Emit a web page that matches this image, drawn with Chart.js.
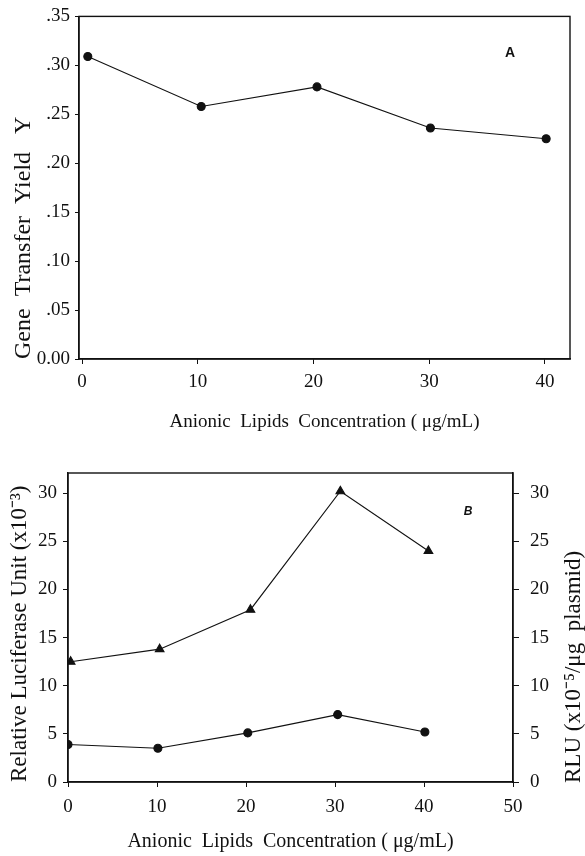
<!DOCTYPE html>
<html>
<head>
<meta charset="utf-8">
<script src="https://cdn.jsdelivr.net/npm/chart.js@4.4.1/dist/chart.umd.min.js"></script>
<style>
  html, body { margin: 0; padding: 0; background: #fff; }
  .panel { position: absolute; left: 0; width: 585px; }
  #wrapA { top: 0; height: 440px; }
  #wrapB { top: 440px; height: 416px; }
</style>
</head>
<body>
<div class="panel" id="wrapA"><canvas id="chartA" width="585" height="440"></canvas></div>
<div class="panel" id="wrapB"><canvas id="chartB" width="585" height="416"></canvas></div>
<script>
// ---- panel A : gene transfer yield ----
const concA = [0.5, 10.3, 20.3, 30.1, 40.1];
const yieldA = [0.309, 0.258, 0.278, 0.236, 0.225];
const xTicksA = [0, 10, 20, 30, 40];
const yTicksA = [0, 0.05, 0.10, 0.15, 0.20, 0.25, 0.30, 0.35];
const yLabelsA = ["0.00", ".05", ".10", ".15", ".20", ".25", ".30", ".35"];

// ---- panel B : luciferase activity ----
const concLuc = [0, 10.1, 20.2, 30.3, 40.1];
const luciferase = [3.9, 3.5, 5.1, 7.0, 5.2];
const concRlu = [0.3, 10.3, 20.5, 30.6, 40.5];
const rluPerPlasmid = [12.5, 13.8, 17.9, 30.2, 24.0];
const xTicksB = [0, 10, 20, 30, 40, 50];
const yTicksB = [0, 5, 10, 15, 20, 25, 30];

const SERIF = "'Liberation Serif', 'Times New Roman', serif";
const INK = "#111";

const toPoints = (xs, ys) => xs.map((x, i) => ({ x: x, y: ys[i] }));
const fixTicks = (values) => (scale) => { scale.ticks = values.map(v => ({ value: v })); };

// box around the plot area
const frame = {
  id: "frame",
  afterDraw(chart) {
    const { ctx, chartArea: a } = chart;
    ctx.save();
    ctx.strokeStyle = INK;
    ctx.lineWidth = 1.4;
    ctx.strokeRect(a.left, a.top, a.right - a.left, a.bottom - a.top);
    ctx.restore();
  }
};

// "A" / "B" panel letters
const panelLabel = {
  id: "panelLabel",
  afterDraw(chart, args, opts) {
    const ctx = chart.ctx;
    ctx.save();
    ctx.font = opts.font;
    ctx.fillStyle = INK;
    ctx.textAlign = "center";
    ctx.textBaseline = "middle";
    ctx.fillText(opts.text, opts.x, opts.y);
    ctx.restore();
  }
};

// right-hand axis title, reading bottom to top like the left one
const rightTitle = {
  id: "rightTitle",
  afterDraw(chart, args, opts) {
    if (!opts.text) return;
    const { ctx, chartArea: a } = chart;
    const s = chart.scales[opts.axis];
    ctx.save();
    ctx.translate(s.right - opts.inset, a.bottom + 1);
    ctx.rotate(-Math.PI / 2);
    ctx.font = opts.font;
    ctx.fillStyle = INK;
    ctx.textAlign = "left";
    ctx.textBaseline = "middle";
    ctx.fillText(opts.text, 0, 0);
    ctx.restore();
  }
};

function axisGrid(len) {
  return { display: true, drawOnChartArea: false, drawTicks: true, tickLength: len, color: INK, lineWidth: 1 };
}

/* =========================
   PANEL A
   ========================= */
new Chart(document.getElementById("chartA"), {
  type: "line",
  data: {
    datasets: [{
      data: toPoints(concA, yieldA),
      borderColor: INK,
      borderWidth: 1.1,
      backgroundColor: INK,
      pointRadius: 4,
      pointStyle: "circle",
      tension: 0
    }]
  },
  options: {
    responsive: false,
    animation: false,
    events: [],
    layout: { padding: { top: 16, right: 15, left: 0, bottom: 0 } },
    plugins: {
      legend: { display: false },
      tooltip: { enabled: false },
      panelLabel: { text: "A", x: 510, y: 53, font: "bold 14px 'Liberation Sans', Arial, sans-serif" },
      rightTitle: { text: "" }
    },
    scales: {
      x: {
        type: "linear",
        min: -0.26,
        max: 42.16,
        afterBuildTicks: fixTicks(xTicksA),
        afterFit: (s) => { s.height = 81; },
        grid: axisGrid(5),
        border: { display: true, color: INK, width: 1.4 },
        ticks: { color: INK, padding: 7, font: { family: SERIF, size: 19 } },
        title: {
          display: true,
          text: "Anionic  Lipids  Concentration ( μg/mL)",
          color: INK,
          font: { family: SERIF, size: 19 },
          padding: { top: 0, bottom: 7 }
        }
      },
      y: {
        type: "linear",
        min: 0,
        max: 0.35,
        afterBuildTicks: fixTicks(yTicksA),
        afterFit: (s) => { s.width = 79; },
        grid: axisGrid(4),
        border: { display: true, color: INK, width: 1.4 },
        ticks: {
          color: INK,
          padding: 5,
          font: { family: SERIF, size: 19 },
          callback: (v, i) => yLabelsA[i]
        },
        title: {
          display: true,
          text: "Gene  Transfer  Yield   Y",
          align: "start",
          color: INK,
          font: { family: SERIF, size: 24 },
          padding: { top: 9, bottom: 0 }
        }
      }
    }
  },
  plugins: [frame, panelLabel, rightTitle]
});

/* =========================
   PANEL B
   ========================= */
new Chart(document.getElementById("chartB"), {
  type: "line",
  data: {
    datasets: [
      {
        data: toPoints(concLuc, luciferase),
        yAxisID: "y",
        borderColor: INK,
        borderWidth: 1.1,
        backgroundColor: INK,
        pointRadius: 4,
        pointStyle: "circle",
        tension: 0
      },
      {
        data: toPoints(concRlu, rluPerPlasmid),
        yAxisID: "y1",
        borderColor: INK,
        borderWidth: 1.1,
        backgroundColor: INK,
        pointRadius: 5,
        pointStyle: "triangle",
        tension: 0
      }
    ]
  },
  options: {
    responsive: false,
    animation: false,
    events: [],
    layout: { padding: { top: 33, right: 0, left: 0, bottom: 0 } },
    plugins: {
      legend: { display: false },
      tooltip: { enabled: false },
      panelLabel: { text: "B", x: 468, y: 72, font: "bold italic 12px 'Liberation Sans', Arial, sans-serif" },
      rightTitle: {
        text: "RLU (x10⁻⁵/μg  plasmid)",
        axis: "y1",
        inset: 11,
        font: "23px " + SERIF
      }
    },
    scales: {
      x: {
        type: "linear",
        min: 0,
        max: 50,
        afterBuildTicks: fixTicks(xTicksB),
        afterFit: (s) => { s.height = 74; },
        grid: axisGrid(5),
        border: { display: true, color: INK, width: 1.4 },
        ticks: { color: INK, padding: 9, font: { family: SERIF, size: 19 } },
        title: {
          display: true,
          text: "Anionic  Lipids  Concentration ( μg/mL)",
          color: INK,
          font: { family: SERIF, size: 20 },
          padding: { top: 0, bottom: 2 }
        }
      },
      y: {
        type: "linear",
        position: "left",
        min: 0,
        max: 32.1,
        afterBuildTicks: fixTicks(yTicksB),
        afterFit: (s) => { s.width = 68; },
        grid: axisGrid(5),
        border: { display: true, color: INK, width: 1.4 },
        ticks: { color: INK, padding: 6, font: { family: SERIF, size: 19 } },
        title: {
          display: true,
          text: "Relative Luciferase Unit (x10⁻³)",
          align: "start",
          color: INK,
          font: { family: SERIF, size: 23 },
          padding: { top: 6, bottom: 0 }
        }
      },
      y1: {
        type: "linear",
        position: "right",
        min: 0,
        max: 32.1,
        afterBuildTicks: fixTicks(yTicksB),
        afterFit: (s) => { s.width = 72; },
        grid: axisGrid(6),
        border: { display: true, color: INK, width: 1.4 },
        ticks: { color: INK, padding: 11, font: { family: SERIF, size: 19 } }
      }
    }
  },
  plugins: [frame, panelLabel, rightTitle]
});
</script>
</body>
</html>
